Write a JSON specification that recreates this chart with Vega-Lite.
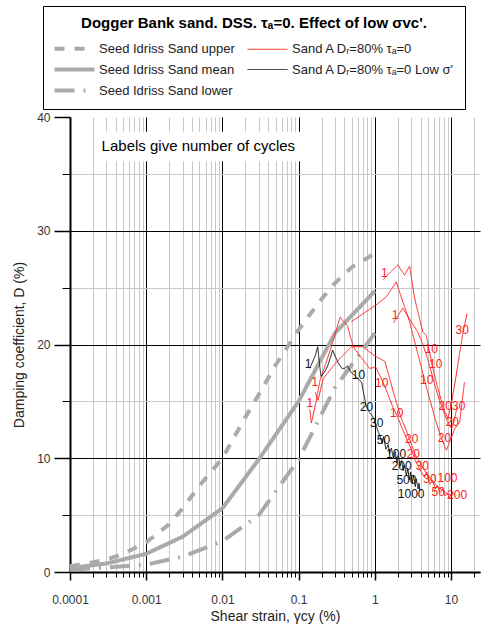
{
  "$schema": "https://vega.github.io/schema/vega-lite/v6.json",
  "width": 410,
  "height": 455,
  "autosize": {"type": "none"},
  "padding": {"left": 70, "top": 117, "right": 1, "bottom": 61},
  "background": "white",
  "config": {
    "font": "Liberation Sans",
    "view": {"stroke": null},
    "axis": {
      "labelFont": "Liberation Sans",
      "titleFont": "Liberation Sans",
      "labelColor": "#333333",
      "titleColor": "#222222",
      "titleFontWeight": "normal",
      "domainColor": "black",
      "tickColor": "black"
    }
  },
  "datasets": {
    "curves": [
      {"s": "Seed Idriss Sand upper", "c": "U", "i": 1, "x": 0.0001, "y": 0.5},
      {"s": "Seed Idriss Sand upper", "c": "U", "i": 2, "x": 0.0002, "y": 0.85},
      {"s": "Seed Idriss Sand upper", "c": "U", "i": 3, "x": 0.0003, "y": 1.1},
      {"s": "Seed Idriss Sand upper", "c": "U", "i": 4, "x": 0.0005, "y": 1.6},
      {"s": "Seed Idriss Sand upper", "c": "U", "i": 5, "x": 0.001, "y": 2.6},
      {"s": "Seed Idriss Sand upper", "c": "U", "i": 6, "x": 0.002, "y": 4.2},
      {"s": "Seed Idriss Sand upper", "c": "U", "i": 7, "x": 0.003, "y": 5.6},
      {"s": "Seed Idriss Sand upper", "c": "U", "i": 8, "x": 0.005, "y": 7.6},
      {"s": "Seed Idriss Sand upper", "c": "U", "i": 9, "x": 0.01, "y": 10.0},
      {"s": "Seed Idriss Sand upper", "c": "U", "i": 10, "x": 0.02, "y": 13.6},
      {"s": "Seed Idriss Sand upper", "c": "U", "i": 11, "x": 0.03, "y": 15.6},
      {"s": "Seed Idriss Sand upper", "c": "U", "i": 12, "x": 0.05, "y": 18.2},
      {"s": "Seed Idriss Sand upper", "c": "U", "i": 13, "x": 0.1, "y": 21.3},
      {"s": "Seed Idriss Sand upper", "c": "U", "i": 14, "x": 0.2, "y": 24.0},
      {"s": "Seed Idriss Sand upper", "c": "U", "i": 15, "x": 0.3, "y": 25.4},
      {"s": "Seed Idriss Sand upper", "c": "U", "i": 16, "x": 0.5, "y": 26.8},
      {"s": "Seed Idriss Sand upper", "c": "U", "i": 17, "x": 1, "y": 28.0},

      {"s": "Seed Idriss Sand mean", "c": "M", "i": 1, "x": 0.0001, "y": 0.35},
      {"s": "Seed Idriss Sand mean", "c": "M", "i": 2, "x": 0.0003, "y": 0.75},
      {"s": "Seed Idriss Sand mean", "c": "M", "i": 3, "x": 0.001, "y": 1.6},
      {"s": "Seed Idriss Sand mean", "c": "M", "i": 4, "x": 0.003, "y": 3.1},
      {"s": "Seed Idriss Sand mean", "c": "M", "i": 5, "x": 0.01, "y": 5.6},
      {"s": "Seed Idriss Sand mean", "c": "M", "i": 6, "x": 0.03, "y": 9.9},
      {"s": "Seed Idriss Sand mean", "c": "M", "i": 7, "x": 0.1, "y": 15.0},
      {"s": "Seed Idriss Sand mean", "c": "M", "i": 8, "x": 0.3, "y": 21.0},
      {"s": "Seed Idriss Sand mean", "c": "M", "i": 9, "x": 1, "y": 24.7},

      {"s": "Seed Idriss Sand lower", "c": "L", "i": 1, "x": 0.0001, "y": 0.2},
      {"s": "Seed Idriss Sand lower", "c": "L", "i": 2, "x": 0.0003, "y": 0.4},
      {"s": "Seed Idriss Sand lower", "c": "L", "i": 3, "x": 0.001, "y": 0.65},
      {"s": "Seed Idriss Sand lower", "c": "L", "i": 4, "x": 0.003, "y": 1.35},
      {"s": "Seed Idriss Sand lower", "c": "L", "i": 5, "x": 0.01, "y": 2.7},
      {"s": "Seed Idriss Sand lower", "c": "L", "i": 6, "x": 0.03, "y": 5.0},
      {"s": "Seed Idriss Sand lower", "c": "L", "i": 7, "x": 0.1, "y": 9.9},
      {"s": "Seed Idriss Sand lower", "c": "L", "i": 8, "x": 0.3, "y": 16.2},
      {"s": "Seed Idriss Sand lower", "c": "L", "i": 9, "x": 1, "y": 21.0},

      {"s": "Sand A Dᵣ=80% τₐ=0", "c": "RA", "i": 1, "x": 1.28, "y": 25.7},
      {"s": "Sand A Dᵣ=80% τₐ=0", "c": "RA", "i": 2, "x": 2.0, "y": 27.0},
      {"s": "Sand A Dᵣ=80% τₐ=0", "c": "RA", "i": 3, "x": 2.46, "y": 26.1},
      {"s": "Sand A Dᵣ=80% τₐ=0", "c": "RA", "i": 4, "x": 2.86, "y": 26.9},
      {"s": "Sand A Dᵣ=80% τₐ=0", "c": "RA", "i": 5, "x": 3.32, "y": 24.1},
      {"s": "Sand A Dᵣ=80% τₐ=0", "c": "RA", "i": 6, "x": 4.27, "y": 21.1},
      {"s": "Sand A Dᵣ=80% τₐ=0", "c": "RA", "i": 7, "x": 4.74, "y": 20.8},
      {"s": "Sand A Dᵣ=80% τₐ=0", "c": "RA", "i": 8, "x": 5.0, "y": 20.0},
      {"s": "Sand A Dᵣ=80% τₐ=0", "c": "RA", "i": 9, "x": 5.6, "y": 18.3},
      {"s": "Sand A Dᵣ=80% τₐ=0", "c": "RA", "i": 10, "x": 6.5, "y": 16.5},
      {"s": "Sand A Dᵣ=80% τₐ=0", "c": "RA", "i": 11, "x": 7.5, "y": 15.0},
      {"s": "Sand A Dᵣ=80% τₐ=0", "c": "RA", "i": 12, "x": 8.4, "y": 14.0},
      {"s": "Sand A Dᵣ=80% τₐ=0", "c": "RA", "i": 13, "x": 9.1, "y": 13.5},
      {"s": "Sand A Dᵣ=80% τₐ=0", "c": "RA", "i": 14, "x": 10.0, "y": 14.6},
      {"s": "Sand A Dᵣ=80% τₐ=0", "c": "RA", "i": 15, "x": 11.5, "y": 17.0},
      {"s": "Sand A Dᵣ=80% τₐ=0", "c": "RA", "i": 16, "x": 13.0, "y": 19.3},
      {"s": "Sand A Dᵣ=80% τₐ=0", "c": "RA", "i": 17, "x": 14.5, "y": 21.2},
      {"s": "Sand A Dᵣ=80% τₐ=0", "c": "RA", "i": 18, "x": 16.2, "y": 22.7},

      {"s": "Sand A Dᵣ=80% τₐ=0", "c": "RB", "i": 1, "x": 0.49, "y": 22.0},
      {"s": "Sand A Dᵣ=80% τₐ=0", "c": "RB", "i": 2, "x": 1.0, "y": 23.4},
      {"s": "Sand A Dᵣ=80% τₐ=0", "c": "RB", "i": 3, "x": 1.42, "y": 24.2},
      {"s": "Sand A Dᵣ=80% τₐ=0", "c": "RB", "i": 4, "x": 1.91, "y": 25.5},
      {"s": "Sand A Dᵣ=80% τₐ=0", "c": "RB", "i": 5, "x": 2.24, "y": 24.1},
      {"s": "Sand A Dᵣ=80% τₐ=0", "c": "RB", "i": 6, "x": 2.63, "y": 22.75},
      {"s": "Sand A Dᵣ=80% τₐ=0", "c": "RB", "i": 7, "x": 2.86, "y": 22.0},
      {"s": "Sand A Dᵣ=80% τₐ=0", "c": "RB", "i": 8, "x": 3.32, "y": 20.3},
      {"s": "Sand A Dᵣ=80% τₐ=0", "c": "RB", "i": 9, "x": 3.9, "y": 18.5},
      {"s": "Sand A Dᵣ=80% τₐ=0", "c": "RB", "i": 10, "x": 4.6, "y": 16.6},
      {"s": "Sand A Dᵣ=80% τₐ=0", "c": "RB", "i": 11, "x": 5.4, "y": 14.9},
      {"s": "Sand A Dᵣ=80% τₐ=0", "c": "RB", "i": 12, "x": 6.3, "y": 13.3},
      {"s": "Sand A Dᵣ=80% τₐ=0", "c": "RB", "i": 13, "x": 7.3, "y": 12.0},
      {"s": "Sand A Dᵣ=80% τₐ=0", "c": "RB", "i": 14, "x": 8.2, "y": 11.1},
      {"s": "Sand A Dᵣ=80% τₐ=0", "c": "RB", "i": 15, "x": 8.7, "y": 10.7},
      {"s": "Sand A Dᵣ=80% τₐ=0", "c": "RB", "i": 16, "x": 9.8, "y": 11.6},
      {"s": "Sand A Dᵣ=80% τₐ=0", "c": "RB", "i": 17, "x": 11.2, "y": 12.6},
      {"s": "Sand A Dᵣ=80% τₐ=0", "c": "RB", "i": 18, "x": 13.0, "y": 13.2},
      {"s": "Sand A Dᵣ=80% τₐ=0", "c": "RB", "i": 19, "x": 15.0, "y": 16.7},

      {"s": "Sand A Dᵣ=80% τₐ=0", "c": "RC", "i": 1, "x": 1.76, "y": 21.9},
      {"s": "Sand A Dᵣ=80% τₐ=0", "c": "RC", "i": 2, "x": 2.33, "y": 23.2},
      {"s": "Sand A Dᵣ=80% τₐ=0", "c": "RC", "i": 3, "x": 2.7, "y": 22.5},
      {"s": "Sand A Dᵣ=80% τₐ=0", "c": "RC", "i": 4, "x": 3.66, "y": 21.1},
      {"s": "Sand A Dᵣ=80% τₐ=0", "c": "RC", "i": 5, "x": 4.27, "y": 20.0},
      {"s": "Sand A Dᵣ=80% τₐ=0", "c": "RC", "i": 6, "x": 4.9, "y": 18.8},
      {"s": "Sand A Dᵣ=80% τₐ=0", "c": "RC", "i": 7, "x": 5.6, "y": 17.4},
      {"s": "Sand A Dᵣ=80% τₐ=0", "c": "RC", "i": 8, "x": 6.4, "y": 16.0},
      {"s": "Sand A Dᵣ=80% τₐ=0", "c": "RC", "i": 9, "x": 7.3, "y": 14.8},
      {"s": "Sand A Dᵣ=80% τₐ=0", "c": "RC", "i": 10, "x": 8.3, "y": 13.8},
      {"s": "Sand A Dᵣ=80% τₐ=0", "c": "RC", "i": 11, "x": 9.3, "y": 13.0},
      {"s": "Sand A Dᵣ=80% τₐ=0", "c": "RC", "i": 12, "x": 10.2, "y": 12.6},
      {"s": "Sand A Dᵣ=80% τₐ=0", "c": "RC", "i": 13, "x": 11.0, "y": 13.3},
      {"s": "Sand A Dᵣ=80% τₐ=0", "c": "RC", "i": 14, "x": 12.0, "y": 14.5},

      {"s": "Sand A Dᵣ=80% τₐ=0", "c": "RD", "i": 1, "x": 0.14, "y": 14.3},
      {"s": "Sand A Dᵣ=80% τₐ=0", "c": "RD", "i": 2, "x": 0.147, "y": 13.1},
      {"s": "Sand A Dᵣ=80% τₐ=0", "c": "RD", "i": 3, "x": 0.17, "y": 15.0},
      {"s": "Sand A Dᵣ=80% τₐ=0", "c": "RD", "i": 4, "x": 0.19, "y": 16.8},
      {"s": "Sand A Dᵣ=80% τₐ=0", "c": "RD", "i": 5, "x": 0.26, "y": 19.5},
      {"s": "Sand A Dᵣ=80% τₐ=0", "c": "RD", "i": 6, "x": 0.35, "y": 22.4},
      {"s": "Sand A Dᵣ=80% τₐ=0", "c": "RD", "i": 7, "x": 0.44, "y": 21.6},
      {"s": "Sand A Dᵣ=80% τₐ=0", "c": "RD", "i": 8, "x": 0.52, "y": 19.8},
      {"s": "Sand A Dᵣ=80% τₐ=0", "c": "RD", "i": 9, "x": 0.73, "y": 18.5},
      {"s": "Sand A Dᵣ=80% τₐ=0", "c": "RD", "i": 10, "x": 0.85, "y": 17.9},
      {"s": "Sand A Dᵣ=80% τₐ=0", "c": "RD", "i": 11, "x": 1.03, "y": 18.0},
      {"s": "Sand A Dᵣ=80% τₐ=0", "c": "RD", "i": 12, "x": 1.22, "y": 17.0},
      {"s": "Sand A Dᵣ=80% τₐ=0", "c": "RD", "i": 13, "x": 1.45, "y": 15.8},
      {"s": "Sand A Dᵣ=80% τₐ=0", "c": "RD", "i": 14, "x": 1.7, "y": 14.6},
      {"s": "Sand A Dᵣ=80% τₐ=0", "c": "RD", "i": 15, "x": 2.0, "y": 13.6},
      {"s": "Sand A Dᵣ=80% τₐ=0", "c": "RD", "i": 16, "x": 2.3, "y": 12.6},
      {"s": "Sand A Dᵣ=80% τₐ=0", "c": "RD", "i": 17, "x": 2.7, "y": 11.5},
      {"s": "Sand A Dᵣ=80% τₐ=0", "c": "RD", "i": 18, "x": 3.0, "y": 10.8},
      {"s": "Sand A Dᵣ=80% τₐ=0", "c": "RD", "i": 19, "x": 3.4, "y": 9.8},
      {"s": "Sand A Dᵣ=80% τₐ=0", "c": "RD", "i": 20, "x": 3.9, "y": 9.0},
      {"s": "Sand A Dᵣ=80% τₐ=0", "c": "RD", "i": 21, "x": 4.5, "y": 8.3},
      {"s": "Sand A Dᵣ=80% τₐ=0", "c": "RD", "i": 22, "x": 4.8, "y": 8.8},
      {"s": "Sand A Dᵣ=80% τₐ=0", "c": "RD", "i": 23, "x": 5.3, "y": 7.7},
      {"s": "Sand A Dᵣ=80% τₐ=0", "c": "RD", "i": 24, "x": 5.7, "y": 8.1},
      {"s": "Sand A Dᵣ=80% τₐ=0", "c": "RD", "i": 25, "x": 6.2, "y": 7.3},
      {"s": "Sand A Dᵣ=80% τₐ=0", "c": "RD", "i": 26, "x": 6.6, "y": 7.6},
      {"s": "Sand A Dᵣ=80% τₐ=0", "c": "RD", "i": 27, "x": 7.2, "y": 7.0},
      {"s": "Sand A Dᵣ=80% τₐ=0", "c": "RD", "i": 28, "x": 7.8, "y": 7.3},
      {"s": "Sand A Dᵣ=80% τₐ=0", "c": "RD", "i": 29, "x": 8.3, "y": 6.7},
      {"s": "Sand A Dᵣ=80% τₐ=0", "c": "RD", "i": 30, "x": 9.0, "y": 6.9},
      {"s": "Sand A Dᵣ=80% τₐ=0", "c": "RD", "i": 31, "x": 9.5, "y": 6.5},
      {"s": "Sand A Dᵣ=80% τₐ=0", "c": "RD", "i": 32, "x": 10.5, "y": 6.7},

      {"s": "Sand A Dᵣ=80% τₐ=0", "c": "RE", "i": 1, "x": 0.165, "y": 15.8},
      {"s": "Sand A Dᵣ=80% τₐ=0", "c": "RE", "i": 2, "x": 0.18, "y": 15.1},
      {"s": "Sand A Dᵣ=80% τₐ=0", "c": "RE", "i": 3, "x": 0.21, "y": 17.0},
      {"s": "Sand A Dᵣ=80% τₐ=0", "c": "RE", "i": 4, "x": 0.3, "y": 18.3},
      {"s": "Sand A Dᵣ=80% τₐ=0", "c": "RE", "i": 5, "x": 0.49, "y": 19.8},
      {"s": "Sand A Dᵣ=80% τₐ=0", "c": "RE", "i": 6, "x": 0.7, "y": 19.8},
      {"s": "Sand A Dᵣ=80% τₐ=0", "c": "RE", "i": 7, "x": 1.0, "y": 19.0},
      {"s": "Sand A Dᵣ=80% τₐ=0", "c": "RE", "i": 8, "x": 1.36, "y": 18.5},
      {"s": "Sand A Dᵣ=80% τₐ=0", "c": "RE", "i": 9, "x": 1.58, "y": 16.9},
      {"s": "Sand A Dᵣ=80% τₐ=0", "c": "RE", "i": 10, "x": 1.9, "y": 15.0},
      {"s": "Sand A Dᵣ=80% τₐ=0", "c": "RE", "i": 11, "x": 2.2, "y": 13.6},
      {"s": "Sand A Dᵣ=80% τₐ=0", "c": "RE", "i": 12, "x": 2.6, "y": 12.4},
      {"s": "Sand A Dᵣ=80% τₐ=0", "c": "RE", "i": 13, "x": 3.0, "y": 11.3},
      {"s": "Sand A Dᵣ=80% τₐ=0", "c": "RE", "i": 14, "x": 3.4, "y": 10.3},
      {"s": "Sand A Dᵣ=80% τₐ=0", "c": "RE", "i": 15, "x": 4.0, "y": 9.5},
      {"s": "Sand A Dᵣ=80% τₐ=0", "c": "RE", "i": 16, "x": 4.6, "y": 8.8},
      {"s": "Sand A Dᵣ=80% τₐ=0", "c": "RE", "i": 17, "x": 5.5, "y": 8.1},
      {"s": "Sand A Dᵣ=80% τₐ=0", "c": "RE", "i": 18, "x": 6.5, "y": 7.6},
      {"s": "Sand A Dᵣ=80% τₐ=0", "c": "RE", "i": 19, "x": 7.6, "y": 7.2},
      {"s": "Sand A Dᵣ=80% τₐ=0", "c": "RE", "i": 20, "x": 8.8, "y": 6.9},
      {"s": "Sand A Dᵣ=80% τₐ=0", "c": "RE", "i": 21, "x": 10.0, "y": 6.8},
      {"s": "Sand A Dᵣ=80% τₐ=0", "c": "RE", "i": 22, "x": 11.3, "y": 6.9},

      {"s": "Sand A Dᵣ=80% τₐ=0 Low σ'", "c": "K", "i": 1, "x": 0.14, "y": 17.9},
      {"s": "Sand A Dᵣ=80% τₐ=0 Low σ'", "c": "K", "i": 2, "x": 0.165, "y": 19.0},
      {"s": "Sand A Dᵣ=80% τₐ=0 Low σ'", "c": "K", "i": 3, "x": 0.178, "y": 19.8},
      {"s": "Sand A Dᵣ=80% τₐ=0 Low σ'", "c": "K", "i": 4, "x": 0.19, "y": 18.0},
      {"s": "Sand A Dᵣ=80% τₐ=0 Low σ'", "c": "K", "i": 5, "x": 0.197, "y": 17.2},
      {"s": "Sand A Dᵣ=80% τₐ=0 Low σ'", "c": "K", "i": 6, "x": 0.22, "y": 17.6},
      {"s": "Sand A Dᵣ=80% τₐ=0 Low σ'", "c": "K", "i": 7, "x": 0.24, "y": 18.1},
      {"s": "Sand A Dᵣ=80% τₐ=0 Low σ'", "c": "K", "i": 8, "x": 0.26, "y": 18.8},
      {"s": "Sand A Dᵣ=80% τₐ=0 Low σ'", "c": "K", "i": 9, "x": 0.28, "y": 19.5},
      {"s": "Sand A Dᵣ=80% τₐ=0 Low σ'", "c": "K", "i": 10, "x": 0.3, "y": 19.0},
      {"s": "Sand A Dᵣ=80% τₐ=0 Low σ'", "c": "K", "i": 11, "x": 0.33, "y": 18.4},
      {"s": "Sand A Dᵣ=80% τₐ=0 Low σ'", "c": "K", "i": 12, "x": 0.37, "y": 17.9},
      {"s": "Sand A Dᵣ=80% τₐ=0 Low σ'", "c": "K", "i": 13, "x": 0.4, "y": 17.9},
      {"s": "Sand A Dᵣ=80% τₐ=0 Low σ'", "c": "K", "i": 14, "x": 0.44, "y": 18.1},
      {"s": "Sand A Dᵣ=80% τₐ=0 Low σ'", "c": "K", "i": 15, "x": 0.48, "y": 17.6},
      {"s": "Sand A Dᵣ=80% τₐ=0 Low σ'", "c": "K", "i": 16, "x": 0.54, "y": 17.3},
      {"s": "Sand A Dᵣ=80% τₐ=0 Low σ'", "c": "K", "i": 17, "x": 0.6, "y": 17.0},
      {"s": "Sand A Dᵣ=80% τₐ=0 Low σ'", "c": "K", "i": 18, "x": 0.67, "y": 16.7},
      {"s": "Sand A Dᵣ=80% τₐ=0 Low σ'", "c": "K", "i": 19, "x": 0.7, "y": 16.0},
      {"s": "Sand A Dᵣ=80% τₐ=0 Low σ'", "c": "K", "i": 20, "x": 0.73, "y": 15.4},
      {"s": "Sand A Dᵣ=80% τₐ=0 Low σ'", "c": "K", "i": 21, "x": 0.77, "y": 14.6},
      {"s": "Sand A Dᵣ=80% τₐ=0 Low σ'", "c": "K", "i": 22, "x": 0.82, "y": 14.2},
      {"s": "Sand A Dᵣ=80% τₐ=0 Low σ'", "c": "K", "i": 23, "x": 0.88, "y": 13.9},
      {"s": "Sand A Dᵣ=80% τₐ=0 Low σ'", "c": "K", "i": 24, "x": 0.93, "y": 13.7},
      {"s": "Sand A Dᵣ=80% τₐ=0 Low σ'", "c": "K", "i": 25, "x": 1.0, "y": 13.3},
      {"s": "Sand A Dᵣ=80% τₐ=0 Low σ'", "c": "K", "i": 26, "x": 1.05, "y": 12.8},
      {"s": "Sand A Dᵣ=80% τₐ=0 Low σ'", "c": "K", "i": 27, "x": 1.1, "y": 12.4},
      {"s": "Sand A Dᵣ=80% τₐ=0 Low σ'", "c": "K", "i": 28, "x": 1.16, "y": 12.0},
      {"s": "Sand A Dᵣ=80% τₐ=0 Low σ'", "c": "K", "i": 29, "x": 1.25, "y": 11.3},
      {"s": "Sand A Dᵣ=80% τₐ=0 Low σ'", "c": "K", "i": 30, "x": 1.3, "y": 11.9},
      {"s": "Sand A Dᵣ=80% τₐ=0 Low σ'", "c": "K", "i": 31, "x": 1.4, "y": 10.8},
      {"s": "Sand A Dᵣ=80% τₐ=0 Low σ'", "c": "K", "i": 32, "x": 1.5, "y": 11.2},
      {"s": "Sand A Dᵣ=80% τₐ=0 Low σ'", "c": "K", "i": 33, "x": 1.56, "y": 10.4},
      {"s": "Sand A Dᵣ=80% τₐ=0 Low σ'", "c": "K", "i": 34, "x": 1.65, "y": 10.9},
      {"s": "Sand A Dᵣ=80% τₐ=0 Low σ'", "c": "K", "i": 35, "x": 1.75, "y": 10.0},
      {"s": "Sand A Dᵣ=80% τₐ=0 Low σ'", "c": "K", "i": 36, "x": 1.85, "y": 10.6},
      {"s": "Sand A Dᵣ=80% τₐ=0 Low σ'", "c": "K", "i": 37, "x": 1.95, "y": 9.6},
      {"s": "Sand A Dᵣ=80% τₐ=0 Low σ'", "c": "K", "i": 38, "x": 2.05, "y": 10.2},
      {"s": "Sand A Dᵣ=80% τₐ=0 Low σ'", "c": "K", "i": 39, "x": 2.15, "y": 9.3},
      {"s": "Sand A Dᵣ=80% τₐ=0 Low σ'", "c": "K", "i": 40, "x": 2.25, "y": 9.8},
      {"s": "Sand A Dᵣ=80% τₐ=0 Low σ'", "c": "K", "i": 41, "x": 2.35, "y": 8.9},
      {"s": "Sand A Dᵣ=80% τₐ=0 Low σ'", "c": "K", "i": 42, "x": 2.45, "y": 9.4},
      {"s": "Sand A Dᵣ=80% τₐ=0 Low σ'", "c": "K", "i": 43, "x": 2.6, "y": 8.5},
      {"s": "Sand A Dᵣ=80% τₐ=0 Low σ'", "c": "K", "i": 44, "x": 2.7, "y": 9.1},
      {"s": "Sand A Dᵣ=80% τₐ=0 Low σ'", "c": "K", "i": 45, "x": 2.85, "y": 8.1},
      {"s": "Sand A Dᵣ=80% τₐ=0 Low σ'", "c": "K", "i": 46, "x": 2.95, "y": 8.8},
      {"s": "Sand A Dᵣ=80% τₐ=0 Low σ'", "c": "K", "i": 47, "x": 3.1, "y": 7.8},
      {"s": "Sand A Dᵣ=80% τₐ=0 Low σ'", "c": "K", "i": 48, "x": 3.2, "y": 8.5},
      {"s": "Sand A Dᵣ=80% τₐ=0 Low σ'", "c": "K", "i": 49, "x": 3.4, "y": 7.5},
      {"s": "Sand A Dᵣ=80% τₐ=0 Low σ'", "c": "K", "i": 50, "x": 3.5, "y": 8.2},
      {"s": "Sand A Dᵣ=80% τₐ=0 Low σ'", "c": "K", "i": 51, "x": 3.7, "y": 7.3},
      {"s": "Sand A Dᵣ=80% τₐ=0 Low σ'", "c": "K", "i": 52, "x": 3.8, "y": 7.8},
      {"s": "Sand A Dᵣ=80% τₐ=0 Low σ'", "c": "K", "i": 53, "x": 3.9, "y": 7.1}
    ],
    "cycles": [
      {"g": "A", "t": "1", "x": 1.33, "y": 26.3},
      {"g": "A", "t": "1", "x": 1.84, "y": 22.6},
      {"g": "A", "t": "1", "x": 0.163, "y": 16.7},
      {"g": "A", "t": "1", "x": 0.14, "y": 14.9},
      {"g": "A", "t": "10", "x": 5.5, "y": 19.6},
      {"g": "A", "t": "10", "x": 6.3, "y": 18.3},
      {"g": "A", "t": "10", "x": 4.8, "y": 16.9},
      {"g": "A", "t": "10", "x": 1.23, "y": 16.6},
      {"g": "A", "t": "10", "x": 1.94, "y": 14.0},
      {"g": "A", "t": "20", "x": 8.4, "y": 14.6},
      {"g": "A", "t": "30", "x": 12.6, "y": 14.6},
      {"g": "A", "t": "20", "x": 10.4, "y": 13.2},
      {"g": "A", "t": "20", "x": 8.2, "y": 11.8},
      {"g": "A", "t": "30", "x": 14.0, "y": 21.3},
      {"g": "A", "t": "20", "x": 3.05, "y": 11.7},
      {"g": "A", "t": "20", "x": 3.2, "y": 10.4},
      {"g": "A", "t": "30", "x": 4.2, "y": 9.3},
      {"g": "A", "t": "30", "x": 5.3, "y": 8.2},
      {"g": "A", "t": "50", "x": 6.8, "y": 7.0},
      {"g": "A", "t": "100", "x": 9.0, "y": 8.3},
      {"g": "A", "t": "200", "x": 12.0, "y": 6.8},
      {"g": "K", "t": "1", "x": 0.133, "y": 18.3},
      {"g": "K", "t": "10", "x": 0.61, "y": 17.3},
      {"g": "K", "t": "20", "x": 0.78, "y": 14.5},
      {"g": "K", "t": "30", "x": 1.06, "y": 13.1},
      {"g": "K", "t": "50", "x": 1.3, "y": 11.6},
      {"g": "K", "t": "100", "x": 1.9, "y": 10.4},
      {"g": "K", "t": "200", "x": 2.25, "y": 9.3},
      {"g": "K", "t": "500", "x": 2.6, "y": 8.1},
      {"g": "K", "t": "1000", "x": 3.0, "y": 6.9}
    ],
    "note": [
      {"x0": 0.000207, "x1": 0.15, "y0": 36.1, "y1": 38.7, "tx": 0.00026, "ty": 37.45, "t": "Labels give number of cycles"}
    ]
  },
  "resolve": {"axis": {"x": "independent", "y": "independent"}},
  "layer": [
    {
      "data": {"name": "note"},
      "mark": {"type": "rect", "fill": "white", "stroke": null},
      "encoding": {
        "x": {
          "field": "x0", "type": "quantitative",
          "scale": {"type": "log", "domain": [0.0001, 24], "nice": false},
          "axis": {
            "orient": "bottom",
            "values": [0.0002, 0.0003, 0.0004, 0.0005, 0.0006, 0.0007, 0.0008, 0.0009,
                       0.002, 0.003, 0.004, 0.005, 0.006, 0.007, 0.008, 0.009,
                       0.02, 0.03, 0.04, 0.05, 0.06, 0.07, 0.08, 0.09,
                       0.2, 0.3, 0.4, 0.5, 0.6, 0.7, 0.8, 0.9,
                       2, 3, 4, 5, 6, 7, 8, 9, 20],
            "grid": true, "gridColor": "#c8c8c8", "gridWidth": 1,
            "tickSize": 5, "tickWidth": 1, "tickColor": "black",
            "labels": false, "domain": false, "title": null
          }
        },
        "x2": {"field": "x1"},
        "y": {
          "field": "y0", "type": "quantitative",
          "scale": {"domain": [0, 40], "nice": false},
          "axis": {
            "orient": "left",
            "values": [5, 15, 25, 35],
            "grid": true, "gridColor": "#c8c8c8", "gridWidth": 1,
            "tickSize": 8, "tickWidth": 1, "tickColor": "black",
            "labels": false, "domain": false, "title": null
          }
        },
        "y2": {"field": "y1"}
      }
    },
    {
      "data": {"name": "note"},
      "mark": {"type": "text", "align": "left", "baseline": "middle", "fontSize": 15, "color": "black", "font": "Liberation Sans"},
      "encoding": {
        "x": {
          "field": "tx", "type": "quantitative",
          "scale": {"type": "log", "domain": [0.0001, 24], "nice": false},
          "axis": {
            "orient": "bottom",
            "values": [0.0001, 0.001, 0.01, 0.1, 1, 10],
            "format": "~g",
            "grid": true, "gridColor": "black", "gridWidth": 1,
            "tickSize": 8, "tickWidth": 1.5, "tickColor": "black",
            "domain": true, "domainColor": "black", "domainWidth": 2,
            "labelPadding": 14, "labelFontSize": 12, "labelFlush": false, "labelOverlap": false,
            "title": "Shear strain, γcy  (%)", "titleFontSize": 14, "titlePadding": 4
          }
        },
        "y": {
          "field": "ty", "type": "quantitative",
          "scale": {"domain": [0, 40], "nice": false},
          "axis": {
            "orient": "left",
            "values": [0, 10, 20, 30, 40],
            "grid": true,
            "gridColor": {"condition": {"test": "datum.value == 40", "value": "transparent"}, "value": "black"},
            "gridWidth": 1,
            "tickSize": 16, "tickWidth": 1.5, "tickColor": "black",
            "domain": true, "domainColor": "black", "domainWidth": 2,
            "labelPadding": 4, "labelFontSize": 12,
            "title": "Damping coefficient, D (%)", "titleFontSize": 14, "titlePadding": 10
          }
        },
        "text": {"field": "t"}
      }
    },
    {
      "data": {"name": "curves"},
      "transform": [{"filter": "indexof(['U', 'M', 'L'], datum.c) >= 0"}],
      "mark": {"type": "line", "strokeWidth": 4},
      "encoding": {
        "x": {"field": "x", "type": "quantitative", "scale": {"type": "log", "domain": [0.0001, 24], "nice": false}, "axis": null},
        "y": {"field": "y", "type": "quantitative", "scale": {"domain": [0, 40], "nice": false}, "axis": null},
        "order": {"field": "i"},
        "detail": {"field": "c"},
        "color": {
          "field": "s", "type": "nominal",
          "scale": {
            "domain": ["Seed Idriss Sand upper", "Seed Idriss Sand mean", "Seed Idriss Sand lower", "Sand A Dᵣ=80% τₐ=0", "Sand A Dᵣ=80% τₐ=0 Low σ'"],
            "range": ["#aaaaaa", "#aaaaaa", "#aaaaaa", "#ff2020", "#111111"]
          },
          "legend": {
            "title": "Dogger Bank sand. DSS. τₐ=0. Effect of low σvc'.",
            "orient": "none", "legendX": -27, "legendY": -111,
            "columns": 2, "symbolType": "M-1,0H7", "symbolSize": 100,
            "padding": 10, "strokeColor": "black", "fillColor": "white",
            "titleFontSize": 15, "titleFontWeight": "bold", "titleColor": "black", "titleFont": "Liberation Sans",
            "titleAnchor": "middle", "titlePadding": 11, "titleLimit": 460,
            "labelFontSize": 13, "labelColor": "#222222", "labelFont": "Liberation Sans",
            "labelOffset": 33, "columnPadding": 10, "rowPadding": 4, "labelLimit": 300,
            "encode": {"symbols": {"update": {"strokeWidth": {"signal": "indexof(['Seed Idriss Sand upper', 'Seed Idriss Sand mean', 'Seed Idriss Sand lower'], datum.value) >= 0 ? 4 : 1"}}}}
          }
        },
        "strokeDash": {
          "field": "s", "type": "nominal",
          "scale": {
            "domain": ["Seed Idriss Sand upper", "Seed Idriss Sand mean", "Seed Idriss Sand lower", "Sand A Dᵣ=80% τₐ=0", "Sand A Dᵣ=80% τₐ=0 Low σ'"],
            "range": [[10, 10], [1, 0], [20, 9, 2, 9], [1, 0], [1, 0]]
          },
          "legend": {
            "title": "Dogger Bank sand. DSS. τₐ=0. Effect of low σvc'.",
            "orient": "none", "legendX": -27, "legendY": -111,
            "columns": 2, "symbolType": "M-1,0H7", "symbolSize": 100,
            "padding": 10, "strokeColor": "black", "fillColor": "white",
            "titleFontSize": 15, "titleFontWeight": "bold", "titleColor": "black", "titleFont": "Liberation Sans",
            "titleAnchor": "middle", "titlePadding": 11, "titleLimit": 460,
            "labelFontSize": 13, "labelColor": "#222222", "labelFont": "Liberation Sans",
            "labelOffset": 33, "columnPadding": 10, "rowPadding": 4, "labelLimit": 300,
            "encode": {"symbols": {"update": {"strokeWidth": {"signal": "indexof(['Seed Idriss Sand upper', 'Seed Idriss Sand mean', 'Seed Idriss Sand lower'], datum.value) >= 0 ? 4 : 1"}}}}
          }
        }
      }
    },
    {
      "data": {"name": "curves"},
      "transform": [{"filter": "indexof(['U', 'M', 'L'], datum.c) < 0"}],
      "mark": {"type": "line", "strokeWidth": 1},
      "encoding": {
        "x": {"field": "x", "type": "quantitative", "scale": {"type": "log", "domain": [0.0001, 24], "nice": false}, "axis": null},
        "y": {"field": "y", "type": "quantitative", "scale": {"domain": [0, 40], "nice": false}, "axis": null},
        "order": {"field": "i"},
        "detail": {"field": "c"},
        "color": {
          "field": "s", "type": "nominal",
          "scale": {
            "domain": ["Seed Idriss Sand upper", "Seed Idriss Sand mean", "Seed Idriss Sand lower", "Sand A Dᵣ=80% τₐ=0", "Sand A Dᵣ=80% τₐ=0 Low σ'"],
            "range": ["#aaaaaa", "#aaaaaa", "#aaaaaa", "#ff2020", "#111111"]
          },
          "legend": {
            "title": "Dogger Bank sand. DSS. τₐ=0. Effect of low σvc'.",
            "orient": "none", "legendX": -27, "legendY": -111,
            "columns": 2, "symbolType": "M-1,0H7", "symbolSize": 100,
            "padding": 10, "strokeColor": "black", "fillColor": "white",
            "titleFontSize": 15, "titleFontWeight": "bold", "titleColor": "black", "titleFont": "Liberation Sans",
            "titleAnchor": "middle", "titlePadding": 11, "titleLimit": 460,
            "labelFontSize": 13, "labelColor": "#222222", "labelFont": "Liberation Sans",
            "labelOffset": 33, "columnPadding": 10, "rowPadding": 4, "labelLimit": 300,
            "encode": {"symbols": {"update": {"strokeWidth": {"signal": "indexof(['Seed Idriss Sand upper', 'Seed Idriss Sand mean', 'Seed Idriss Sand lower'], datum.value) >= 0 ? 4 : 1"}}}}
          }
        },
        "strokeDash": {
          "field": "s", "type": "nominal",
          "scale": {
            "domain": ["Seed Idriss Sand upper", "Seed Idriss Sand mean", "Seed Idriss Sand lower", "Sand A Dᵣ=80% τₐ=0", "Sand A Dᵣ=80% τₐ=0 Low σ'"],
            "range": [[10, 10], [1, 0], [20, 9, 2, 9], [1, 0], [1, 0]]
          },
          "legend": {
            "title": "Dogger Bank sand. DSS. τₐ=0. Effect of low σvc'.",
            "orient": "none", "legendX": -27, "legendY": -111,
            "columns": 2, "symbolType": "M-1,0H7", "symbolSize": 100,
            "padding": 10, "strokeColor": "black", "fillColor": "white",
            "titleFontSize": 15, "titleFontWeight": "bold", "titleColor": "black", "titleFont": "Liberation Sans",
            "titleAnchor": "middle", "titlePadding": 11, "titleLimit": 460,
            "labelFontSize": 13, "labelColor": "#222222", "labelFont": "Liberation Sans",
            "labelOffset": 33, "columnPadding": 10, "rowPadding": 4, "labelLimit": 300,
            "encode": {"symbols": {"update": {"strokeWidth": {"signal": "indexof(['Seed Idriss Sand upper', 'Seed Idriss Sand mean', 'Seed Idriss Sand lower'], datum.value) >= 0 ? 4 : 1"}}}}
          }
        }
      }
    },
    {
      "data": {"name": "cycles"},
      "transform": [{"filter": "datum.g == 'A'"}],
      "mark": {"type": "text", "align": "center", "baseline": "middle", "fontSize": 12, "color": "#ff2020", "font": "Liberation Sans"},
      "encoding": {
        "x": {"field": "x", "type": "quantitative", "scale": {"type": "log", "domain": [0.0001, 24], "nice": false}, "axis": null},
        "y": {"field": "y", "type": "quantitative", "scale": {"domain": [0, 40], "nice": false}, "axis": null},
        "text": {"field": "t"}
      }
    },
    {
      "data": {"name": "cycles"},
      "transform": [{"filter": "datum.g == 'K'"}],
      "mark": {"type": "text", "align": "center", "baseline": "middle", "fontSize": 12, "color": "#111111", "font": "Liberation Sans"},
      "encoding": {
        "x": {"field": "x", "type": "quantitative", "scale": {"type": "log", "domain": [0.0001, 24], "nice": false}, "axis": null},
        "y": {"field": "y", "type": "quantitative", "scale": {"domain": [0, 40], "nice": false}, "axis": null},
        "text": {"field": "t"}
      }
    }
  ]
}
